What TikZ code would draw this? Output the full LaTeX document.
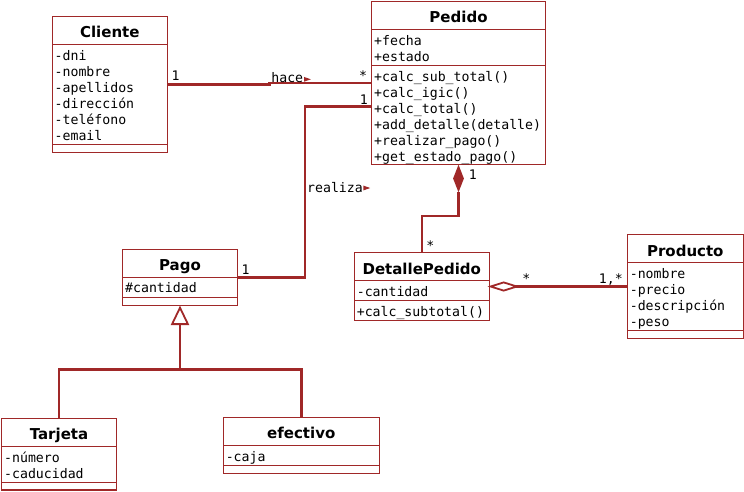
\documentclass[tikz,border=0pt]{standalone}
\usepackage{fontspec}
\setmainfont{DejaVu Sans}
\newfontfamily\monof{DejaVu Sans Mono}
\usetikzlibrary{calc}
\definecolor{umlred}{RGB}{160,40,40}
\tikzset{
  classbox/.style={draw=umlred, line width=1.1pt, rectangle, inner sep=0pt, outer sep=0pt, anchor=north west},
  sepline/.style={draw=umlred, line width=1.1pt},
  rowtext/.style={anchor=base west, inner sep=0pt, font=\monof\fontsize{13.2}{16}\selectfont},
  headtext/.style={anchor=base, inner sep=0pt, font=\bfseries\fontsize{15}{16}\selectfont},
  multtext/.style={anchor=base west, inner sep=0pt, font=\monof\fontsize{13.2}{16}\selectfont},
  assoc/.style={draw=umlred, line width=2.5pt},
  tipline/.style={draw=umlred, line width=1.8pt, fill=white, line join=miter},
}
% name, left, top, right, bottom, title
\newcommand\umlbox[6]{%
  \node[classbox, minimum width={(#4-#2)*1pt}, minimum height={(#5-#3)*1pt}] (#1) at (#2,#3) {};
  \node[headtext] (#1-title) at ({(#2+#4)/2},{#3+21.3}) {#6};
}
\newcommand\hsep[3]{\draw[sepline] (#1,#3) -- (#2,#3);}
\begin{document}
\begin{tikzpicture}[x=1pt,y=-1pt]
\useasboundingbox (0,0) rectangle (744,491);

% ---------- Cliente
\umlbox{cliente}{52.3}{16.3}{167.3}{152.3}{Cliente}
\hsep{52.3}{167.3}{44.3}
\hsep{52.3}{167.3}{144.7}
\foreach \t [count=\i] in {-dni,-nombre,-apellidos,-dirección,-teléfono,-email}
  \node[rowtext] (cliente-a\i) at (54.5,{60+16*(\i-1)}) {\t};

% ---------- Pedido
\umlbox{pedido}{371.7}{1.3}{545.3}{164.7}{Pedido}
\hsep{371.7}{545.3}{29.7}
\hsep{371.7}{545.3}{65.7}
\foreach \t [count=\i] in {+fecha,+estado}
  \node[rowtext] (pedido-a\i) at (374,{45.2+16*(\i-1)}) {\t};
\foreach \t [count=\i] in {+calc\_sub\_total(),+calc\_igic(),+calc\_total(),+add\_detalle(detalle),+realizar\_pago(),+get\_estado\_pago()}
  \node[rowtext] (pedido-m\i) at (374,{81.2+16*(\i-1)}) {\t};

% ---------- Pago
\umlbox{pago}{122.7}{249.3}{237.3}{305.3}{Pago}
\hsep{122.7}{237.3}{277.3}
\hsep{122.7}{237.3}{297.3}
\node[rowtext] (pago-a1) at (125,292.8) {\#cantidad};

% ---------- Tarjeta
\umlbox{tarjeta}{1.7}{418.3}{116.3}{490}{Tarjeta}
\hsep{1.7}{116.3}{446.3}
\hsep{1.7}{116.3}{482.3}
\foreach \t [count=\i] in {-número,-caducidad}
  \node[rowtext] (tarjeta-a\i) at (4,{462+16*(\i-1)}) {\t};

% ---------- efectivo
\umlbox{efectivo}{223.3}{417.3}{379.3}{473.3}{efectivo}
\hsep{223.3}{379.3}{445.7}
\hsep{223.3}{379.3}{465.7}
\node[rowtext] (efectivo-a1) at (225.6,461.8) {-caja};

% ---------- DetallePedido
\umlbox{detalle}{354.3}{252.7}{489.3}{320.3}{DetallePedido}
\hsep{354.3}{489.3}{280.7}
\hsep{354.3}{489.3}{300.3}
\node[rowtext] (detalle-a1) at (356.6,296.6) {-cantidad};
\node[rowtext] (detalle-m1) at (356.6,316.8) {+calc\_subtotal()};

% ---------- Producto
\umlbox{producto}{627.3}{234.7}{743.3}{338.3}{Producto}
\hsep{627.3}{743.3}{262.7}
\hsep{627.3}{743.3}{330.7}
\foreach \t [count=\i] in {-nombre,-precio,-descripción,-peso}
  \node[rowtext] (producto-a\i) at (629.6,{278.2+16*(\i-1)}) {\t};

% ---------- hace
\draw[assoc] (cliente.east) -- ++(102,0) |- (pedido.west);
\node[multtext] (hace) at (271.2,82.6) {hace};
\fill[umlred] (304,76.9) -- (310.8,79.3) -- (304,81.7) -- cycle;
\node[multtext] (m-cl) at (171.4,80) {1};
\node[multtext] (m-pe1) at (358.8,80) {*};

% ---------- realiza
\draw[assoc] ([yshift=-23.7pt]pedido.west) -| ([xshift=67.7pt]pago.east) -- (pago.east);
\node[multtext] (realiza) at (307,192.5) {realiza};
\fill[umlred] (363.4,185.6) -- (370.2,188) -- (363.4,190.4) -- cycle;
\node[multtext] (m-pe2) at (359.7,104) {1};
\node[multtext] (m-pa) at (241.4,274) {1};

% ---------- composition Pedido <>-- DetallePedido
\draw[assoc] (detalle.north) |- ($(pedido.south)+(0,51.3)$) -- ($(pedido.south)+(0,27)$);
\fill[umlred] (pedido.south) -- ++(5.4,13.8) -- ++(-5.4,13.8) -- ++(-5.4,-13.8) -- cycle;
\node[multtext] (m-comp1) at (468.7,179.3) {1};
\node[multtext] (m-comp2) at (426.2,250) {*};

% ---------- aggregation DetallePedido <>-- Producto
\draw[assoc] (producto.west) -- ($(detalle.east)+(26.5,0)$);
\draw[tipline] ($(detalle.east)+(1.3,0)$) -- ++(13.1,-4.1) -- ++(13.1,4.1) -- ++(-13.1,4.1) -- cycle;
\node[multtext] (m-ag1) at (522.2,283) {*};
\node[multtext] (m-ag2) at (598.7,283) {1,*};

% ---------- generalization
\coordinate (gj) at ($(pago.south)+(0,64)$);
\draw[assoc] (tarjeta.north) |- (gj) -| (efectivo.north);
\draw[assoc] (gj) -- ($(pago.south)+(0,18)$);
\draw[tipline] ($(pago.south)+(0,2.4)$) -- ++(7.9,16.4) -- ++(-15.8,0) -- cycle;
\end{tikzpicture}
\end{document}
